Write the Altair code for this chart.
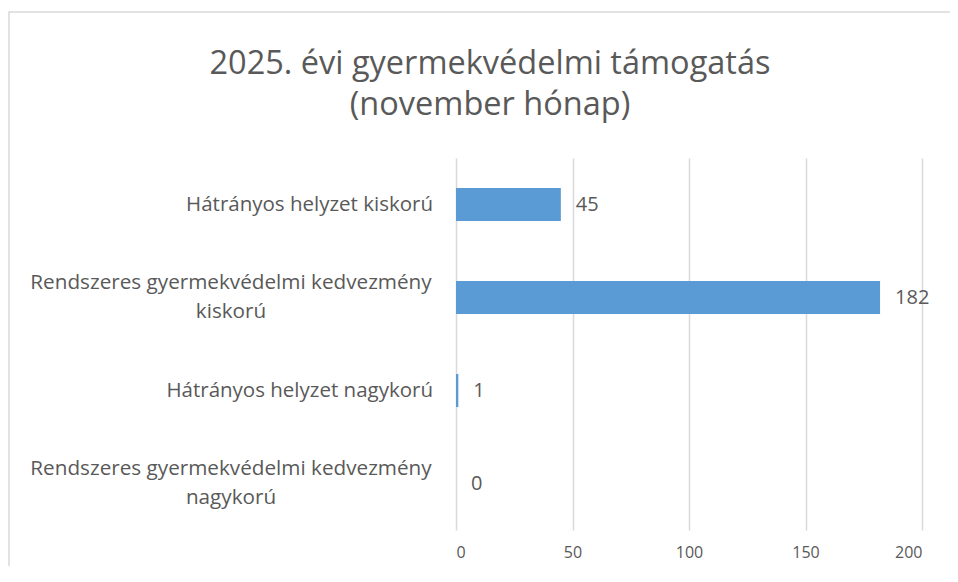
import altair as alt
import pandas as pd

categories = [
    "Hátrányos helyzet kiskorú",
    "Rendszeres gyermekvédelmi kedvezmény kiskorú",
    "Hátrányos helyzet nagykorú",
    "Rendszeres gyermekvédelmi kedvezmény nagykorú",
]
display_labels = [
    "Hátrányos helyzet kiskorú",
    "Rendszeres gyermekvédelmi kedvezmény\nkiskorú",
    "Hátrányos helyzet nagykorú",
    "Rendszeres gyermekvédelmi kedvezmény\nnagykorú",
]
multiline = [False, True, False, True]
values = [45, 182, 1, 0]
x_ticks = [0, 50, 100, 150, 200]
title_lines = ["2025. évi gyermekvédelmi támogatás", "(november hónap)"]

df = pd.DataFrame({
    "kategoria": categories,
    "felirat": display_labels,
    "tobbsoros": multiline,
    "ertek": values,
})

FONT = "Open Sans"
GREY = "#595959"

y_enc = alt.Y(
    "kategoria:N",
    sort=categories,
    scale=alt.Scale(paddingInner=0.645, paddingOuter=0.3225),
    axis=None,
)

base = alt.Chart(df)

bars = base.mark_bar(color="#5B9BD5").encode(
    x=alt.X(
        "ertek:Q",
        scale=alt.Scale(domain=[0, 200], nice=False),
        axis=alt.Axis(
            values=x_ticks,
            title=None,
            domain=False,
            ticks=False,
            grid=True,
            gridColor="#d9d9d9",
            gridWidth=1.5,
            labelFont=FONT,
            labelFontSize=16,
            labelColor=GREY,
            labelPadding=14,
        ),
    ),
    y=y_enc,
)

values_text = base.mark_text(
    align="left", baseline="middle", dx=15, font=FONT, fontSize=20, color=GREY
).encode(
    x="ertek:Q",
    y=y_enc,
    text="ertek:Q",
)

labels_single = base.transform_filter("!datum.tobbsoros").mark_text(
    align="right", baseline="middle", font=FONT, fontSize=20.5, color=GREY
).encode(
    x=alt.value(-23),
    y=y_enc,
    text="felirat:N",
)

labels_multi = base.transform_filter("datum.tobbsoros").mark_text(
    align="center", baseline="middle", font=FONT, fontSize=20.7, color=GREY,
    lineBreak="\n", lineHeight=29, dy=-14.5,
).encode(
    x=alt.value(-225),
    y=y_enc,
    text="felirat:N",
)

frame = alt.Chart(pd.DataFrame({"k": [0]})).mark_rect(
    fill=None, stroke="#d9d9d9", strokeWidth=1.5
).encode(
    x=alt.value(-447),
    x2=alt.value(600),
    y=alt.value(-146),
    y2=alt.value(500),
)

chart = alt.layer(frame, bars, values_text, labels_single, labels_multi).properties(
    width=466,
    height=372,
    autosize=alt.AutoSizeParams(type="none"),
    padding={"left": 448, "top": 150, "right": 28, "bottom": 36},
    title=alt.TitleParams(
        text=title_lines,
        anchor="middle",
        frame="group",
        dx=-199,
        offset=-110,
        font=FONT,
        fontSize=32.5,
        fontWeight="normal",
        color=GREY,
        lineHeight=41,
    ),
).configure_view(stroke=None)

chart.save("out.html", embed_options={"renderer": "svg", "actions": False})
